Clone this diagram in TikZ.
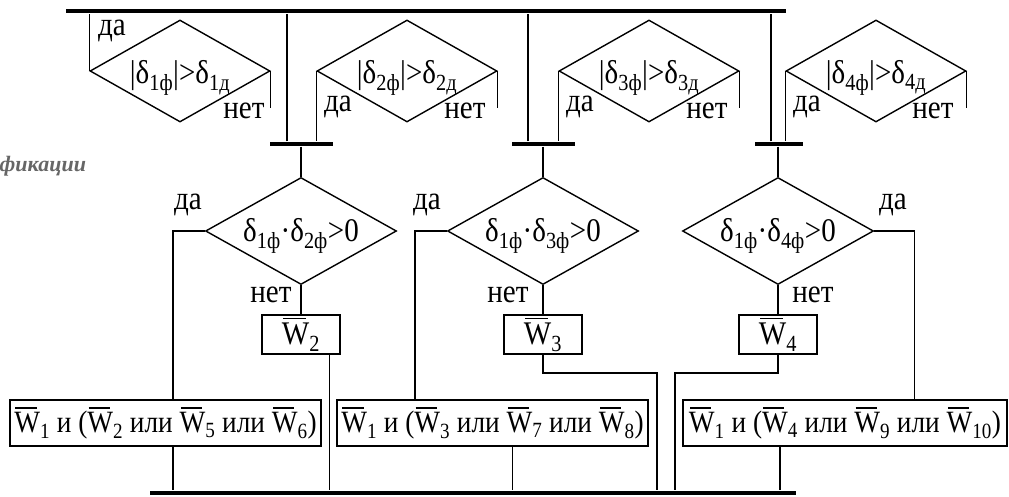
\documentclass[tikz,border=0pt]{standalone}
\usepackage{fontspec}
\setmainfont{Liberation Serif}[FakeStretch=0.88]
\newfontfamily\captfont{Liberation Serif}
\usetikzlibrary{shapes.geometric, positioning}

\newcommand{\Wbar}[1]{\makebox[0pt][l]{\hspace{0.04em}\raisebox{0.76em}{\rule{0.68em}{0.05em}}}W\textsubscript{#1}}

\begin{document}
\begin{tikzpicture}[x=1pt, y=-1pt, line width=1.4pt,
                    every node/.style={inner sep=0pt, font=\fontsize{33}{36}\selectfont},
                    chkbox/.style={diamond, draw, minimum width=180pt, minimum height=102pt},
                    cmpbox/.style={diamond, draw, minimum width=191pt, minimum height=107pt},
                    busbar/.style={rectangle, fill=black, minimum height=4pt},
                    wbox/.style={rectangle, draw, minimum width=78pt, minimum height=39pt},
                    resbox/.style={rectangle, draw, minimum width=311pt, minimum height=46pt, font=\fontsize{31}{34}\selectfont}]
                    \useasboundingbox (0,0) rectangle (1009,497);
                    \node[anchor=west, text=black!60, font=\captfont\fontsize{22}{24}\selectfont\bfseries\itshape](capt) at (-1,166){фикации};

                    \node[busbar, minimum width=720pt](topbus) at (426,11){};
                    \node[chkbox, label={[yshift=-7pt]center:{|δ\textsubscript{1ф}|>δ\textsubscript{1д}}}](t1) at (180,71){};
                    \node[chkbox, label={[yshift=-7pt]center:{|δ\textsubscript{2ф}|>δ\textsubscript{2д}}}](t2) at (407,71){};
                    \node[chkbox, label={[yshift=-7pt]center:{|δ\textsubscript{3ф}|>δ\textsubscript{3д}}}](t3) at (649,71){};
                    \node[chkbox, label={[yshift=-7pt]center:{|δ\textsubscript{4ф}|>δ\textsubscript{4д}}}](t4) at (876,71){};
                    \node(t1yes) at (112,31){да};
                    \node(t1no) at (244,111){нет};
                    \node(t2yes) at (338,107){да};
                    \node(t2no) at (465,111){нет};
                    \node(t3yes) at (580,107){да};
                    \node(t3no) at (707,111){нет};
                    \node(t4yes) at (807,107){да};
                    \node(t4no) at (933,111){нет};
                    \coordinate[below=37pt of t1.east](t1end);
                    \coordinate[below=37pt of t2.east](t2end);
                    \coordinate[below=37pt of t3.east](t3end);
                    \coordinate[below=37pt of t4.east](t4end);

                    \node[busbar, minimum width=63pt](bus1) at (301,144){};
                    \node[busbar, minimum width=63pt](bus2) at (543,144){};
                    \node[busbar, minimum width=48pt](bus3) at (779,144){};
                    \draw[-] (t1.west) -- (t1.west |- topbus.south);
                    \draw[-] (t1.east) -- (t1end);
                    \draw[-] (t2.east) -- (t2end);
                    \draw[-] (t3.east) -- (t3end);
                    \draw[-] (t4.east) -- (t4end);
                    \draw[-] (t2.west) -- (t2.west |- bus1.north);
                    \draw[-] (t3.west) -- (t3.west |- bus2.north);
                    \draw[-] (t4.west) -- (t4.west |- bus3.north);
                    \draw[-] ([xshift=-14pt]bus1.north) -- ([xshift=-14pt]bus1.north |- topbus.south);
                    \draw[-] ([xshift=-15pt]bus2.north) -- ([xshift=-15pt]bus2.north |- topbus.south);
                    \draw[-] ([xshift=-8pt]bus3.north) -- ([xshift=-8pt]bus3.north |- topbus.south);

                    \node[cmpbox, label={[yshift=-5pt]center:{δ\textsubscript{1ф}·δ\textsubscript{2ф}>0}}](m1) at (301,231){};
                    \node[cmpbox, label={[yshift=-5pt]center:{δ\textsubscript{1ф}·δ\textsubscript{3ф}>0}}](m2) at (543,231){};
                    \node[cmpbox, label={[yshift=-5pt]center:{δ\textsubscript{1ф}·δ\textsubscript{4ф}>0}}](m3) at (778,231){};
                    \node(m1yes) at (188,205){да};
                    \node(m1no) at (271,295){нет};
                    \node(m2yes) at (427,205){да};
                    \node(m2no) at (508,295){нет};
                    \node(m3yes) at (893,205){да};
                    \node(m3no) at (813,295){нет};
                    \draw[-] (bus1.south) -- (m1.north);
                    \draw[-] (bus2.south) -- (m2.north);
                    \draw[-] ([xshift=-1pt]bus3.south) -- (m3.north);

                    \node[wbox](w2) at (301,334.5){\Wbar{2}};
                    \node[wbox](w3) at (543,334.5){\Wbar{3}};
                    \node[wbox](w4) at (778,334.5){\Wbar{4}};
                    \draw[-] (m1.south) -- (w2.north);
                    \draw[-] (m2.south) -- (w3.north);
                    \draw[-] (m3.south) -- (w4.north);

                    \node[resbox](r1) at (165.5,423){\Wbar{1} и (\Wbar{2} или \Wbar{5} или \Wbar{6})};
                    \node[resbox](r2) at (492.5,423){\Wbar{1} и (\Wbar{3} или \Wbar{7} или \Wbar{8})};
                    \node[resbox, minimum width=324pt](r3) at (845,423){\Wbar{1} и (\Wbar{4} или \Wbar{9} или \Wbar{10})};
                    \node[busbar, minimum width=646pt](botbus) at (473,493){};

                    \coordinate[left=32pt of m1.west](m1turn);
                    \coordinate[left=32pt of m2.west](m2turn);
                    \coordinate[right=40pt of m3.east](m3turn);
                    \draw[-] (m1.west) -- (m1turn) -- (m1turn |- r1.north);
                    \draw[-] (m2.west) -- (m2turn) -- (m2turn |- r2.north);
                    \draw[-] (m3.east) -- (m3turn) -- (m3turn |- r3.north);
                    \draw[-] (r1.south -| m1turn) -- (m1turn |- botbus.north);
                    \draw[-] ([xshift=20pt]r2.south) -- ([xshift=20pt]r2.south |- botbus.north);
                    \draw[-] ([xshift=-65pt]r3.south) -- ([xshift=-65pt]r3.south |- botbus.north);

                    \coordinate[left=11pt of w2.south east](w2out);
                    \coordinate(w3turn) at (657,373);
                    \coordinate(w4turn) at (675,373);
                    \draw[-] (w2out) -- (w2out |- botbus.north);
                    \draw[-] (w3.south) |- (w3turn) -- (w3turn |- botbus.north);
                    \draw[-] (w4.south) |- (w4turn) -- (w4turn |- botbus.north);
                \end{tikzpicture}
\end{document}
